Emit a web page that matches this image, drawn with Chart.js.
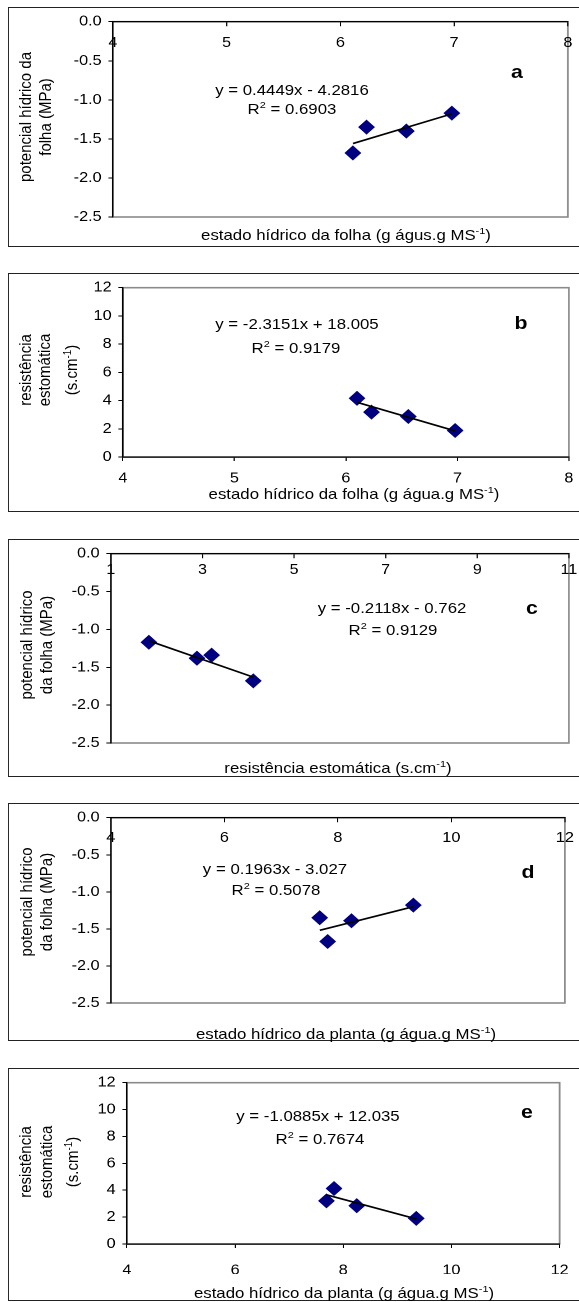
<!DOCTYPE html>
<html>
<head>
<meta charset="utf-8">
<script src="https://cdn.jsdelivr.net/npm/chart.js@4.4.1/dist/chart.umd.min.js"></script>
<style>
html, body { margin: 0; padding: 0; background: #fff; }
body { width: 579px; height: 1302px; overflow: hidden; position: relative; }
#stage {
    position: absolute; left: 0; top: 0; width: 530px; height: 1302px;
    transform-origin: 0 0;
    font-family: "Liberation Sans", Arial, sans-serif; color: #000;
}
.box { position: absolute; }
.frame { position: absolute; box-sizing: border-box; border: 1.4px solid #222; }
.txt { position: absolute; white-space: nowrap; transform: translate(-50%, -50%); font-size: 15px; }
.rot { position: absolute; white-space: nowrap; transform: translate(-50%, -50%) rotate(-90deg); font-size: 15px; }
.tag { font-weight: bold; font-size: 19px; }
sup { font-size: 65%; line-height: 0; vertical-align: 0.55em; }
</style>
</head>
<body>
<div id="stage"></div>
<script>
// horizontal stretch of the original figure
var S = 1.12;

// eixos
var xTicksFolha = [4, 5, 6, 7, 8];
var xTicksResist = [1, 3, 5, 7, 9, 11];
var xTicksPlanta = [4, 6, 8, 10, 12];
var yTicksPot = [0, -0.5, -1, -1.5, -2, -2.5];
var yTicksRes = [0, 2, 4, 6, 8, 10, 12];

// a - estado hídrico da folha x potencial hídrico da folha
var folhaA = [6.11, 6.23, 6.58, 6.98];
var potencialA = [-1.68, -1.35, -1.40, -1.17];
var trendA = [[6.11, -1.56], [6.98, -1.18]];

// b - estado hídrico da folha x resistência estomática
var folhaB = [6.10, 6.23, 6.56, 6.98];
var resistB = [4.16, 3.18, 2.87, 1.88];
var trendB = [[6.10, 3.88], [6.98, 1.85]];

// c - resistência estomática x potencial hídrico da folha
var resistC = [1.83, 2.88, 3.20, 4.11];
var potencialC = [-1.17, -1.38, -1.34, -1.68];
var trendC = [[1.83, -1.15], [4.11, -1.63]];

// d - estado hídrico da planta x potencial hídrico da folha
var plantaD = [7.68, 7.82, 8.24, 9.33];
var potencialD = [-1.35, -1.67, -1.39, -1.18];
var trendD = [[7.68, -1.52], [9.33, -1.20]];

// e - estado hídrico da planta x resistência estomática
var plantaE = [7.69, 7.83, 8.25, 9.35];
var resistE = [3.21, 4.13, 2.85, 1.91];
var trendE = [[7.69, 3.66], [9.35, 1.86]];

// layout in pixels of the picture: frame top/bottom, plot left/top/right/bottom
var panels = [
    { frame: [7, 247], plot: [113, 20, 568, 217], top: true, xt: xTicksFolha, yt: yTicksPot, dec: 1, xs: folhaA, ys: potencialA, trend: trendA, xPad: 8.6 },
    { frame: [273, 512], plot: [123, 287, 569, 457], top: false, xt: xTicksFolha, yt: yTicksRes, dec: 0, xs: folhaB, ys: resistB, trend: trendB, xPad: 8.6 },
    { frame: [539, 777], plot: [111, 552, 569, 743], top: true, xt: xTicksResist, yt: yTicksPot, dec: 1, xs: resistC, ys: potencialC, trend: trendC, xPad: 3.6 },
    { frame: [803, 1041], plot: [111, 816, 565, 1003], top: true, xt: xTicksPlanta, yt: yTicksPot, dec: 1, xs: plantaD, ys: potencialD, trend: trendD, xPad: 7.5 },
    { frame: [1068, 1301], plot: [127, 1082, 561, 1244], top: false, xt: xTicksPlanta, yt: yTicksRes, dec: 0, xs: plantaE, ys: resistE, trend: trendE, xPad: 13.6 }
];

var texts = [
    [292, 89, "txt", "y = 0.4449x - 4.2816"],
    [292, 108, "txt", "R<sup>2</sup> = 0.6903"],
    [517, 72, "txt tag", "a"],
    [346, 234, "txt", "estado hídrico da folha (g águs.g MS<sup>-1</sup>)"],
    [25, 117, "rot", "potencial hídrico da"],
    [45, 117, "rot", "folha (MPa)"],

    [297, 323, "txt", "y = -2.3151x + 18.005"],
    [296, 347, "txt", "R<sup>2</sup> = 0.9179"],
    [521, 323, "txt tag", "b"],
    [354, 493, "txt", "estado hídrico da folha (g água.g MS<sup>-1</sup>)"],
    [25, 370, "rot", "resistência"],
    [44, 370, "rot", "estomática"],
    [70, 370, "rot", "(s.cm<sup>-1</sup>)"],

    [392, 607, "txt", "y = -0.2118x - 0.762"],
    [393, 629, "txt", "R<sup>2</sup> = 0.9129"],
    [532, 608, "txt tag", "c"],
    [338, 767, "txt", "resistência estomática (s.cm<sup>-1</sup>)"],
    [26, 645, "rot", "potencial hídrico"],
    [46, 645, "rot", "da folha (MPa)"],

    [275, 868, "txt", "y = 0.1963x - 3.027"],
    [276, 889, "txt", "R<sup>2</sup> = 0.5078"],
    [528, 872, "txt tag", "d"],
    [346, 1033, "txt", "estado hídrico da planta (g água.g MS<sup>-1</sup>)"],
    [26, 902, "rot", "potencial hídrico"],
    [46, 902, "rot", "da folha (MPa)"],

    [318, 1115, "txt", "y = -1.0885x + 12.035"],
    [320, 1138, "txt", "R<sup>2</sup> = 0.7674"],
    [527, 1112, "txt tag", "e"],
    [344, 1292, "txt", "estado hídrico da planta (g água.g MS<sup>-1</sup>)"],
    [25, 1162, "rot", "resistência"],
    [46, 1162, "rot", "estomática"],
    [72, 1162, "rot", "(s.cm<sup>-1</sup>)"]
];

var stage = document.getElementById("stage");
stage.style.transform = "scaleX(" + S + ")";

var frameLeft = 8;
var frameRight = 584;
var yw = 45;
var xh = 30;

Chart.defaults.font.family = '"Liberation Sans", Arial, sans-serif';
Chart.defaults.font.size = 14.5;
Chart.defaults.color = "#000";

// gray border of the plot area, axes are drawn over it
var plotFrame = {
    id: "plotFrame",
    beforeDraw: function (chart) {
        var a = chart.chartArea;
        var ctx = chart.ctx;
        ctx.save();
        ctx.strokeStyle = "#8a8a8a";
        ctx.lineWidth = 1.6;
        ctx.strokeRect(a.left, a.top, a.right - a.left, a.bottom - a.top);
        ctx.restore();
    }
};

function makePanel(p, i) {
    var h = p.frame[1] - p.frame[0];
    var wrap = document.createElement("div");
    wrap.className = "box";
    wrap.style.left = frameLeft / S + "px";
    wrap.style.top = p.frame[0] + "px";
    wrap.style.width = (frameRight - frameLeft) / S + "px";
    wrap.style.height = h + "px";
    var cv = document.createElement("canvas");
    cv.id = "chart" + i;
    wrap.appendChild(cv);
    stage.appendChild(wrap);

    var fr = document.createElement("div");
    fr.className = "frame";
    fr.style.left = frameLeft / S + "px";
    fr.style.top = p.frame[0] + "px";
    fr.style.width = (frameRight - frameLeft) / S + "px";
    fr.style.height = h + "px";
    stage.appendChild(fr);

    var pts = p.xs.map(function (x, k) { return { x: x, y: p.ys[k] }; });
    var line = p.trend.map(function (t) { return { x: t[0], y: t[1] }; });

    new Chart(cv, {
        type: "scatter",
        data: {
            datasets: [
                {
                    data: pts,
                    pointStyle: "rectRot",
                    pointRadius: 6.8,
                    backgroundColor: "#000080",
                    borderColor: "#000080",
                    borderWidth: 1,
                    order: 1
                },
                {
                    type: "line",
                    data: line,
                    borderColor: "#000",
                    borderWidth: 1.7,
                    pointRadius: 0,
                    fill: false,
                    order: 0
                }
            ]
        },
        options: {
            responsive: true,
            maintainAspectRatio: false,
            animation: false,
            devicePixelRatio: 2,
            events: [],
            layout: {
                padding: {
                    left: (p.plot[0] - frameLeft) / S - yw,
                    right: (frameRight - p.plot[2]) / S,
                    top: p.plot[1] - p.frame[0],
                    bottom: p.frame[1] - p.plot[3] - (p.top ? 0 : xh)
                }
            },
            plugins: { legend: { display: false }, tooltip: { enabled: false } },
            scales: {
                x: {
                    type: "linear",
                    position: p.top ? { y: 0 } : "bottom",
                    min: p.xt[0],
                    max: p.xt[p.xt.length - 1],
                    afterBuildTicks: function (s) {
                        s.ticks = p.xt.map(function (v) { return { value: v }; });
                    },
                    afterFit: function (s) { if (!p.top) s.height = xh; },
                    ticks: { padding: p.xPad, maxRotation: 0, autoSkip: false, color: "#000" },
                    grid: { drawOnChartArea: false, tickLength: 4, color: "#000", tickWidth: 1 },
                    border: { color: "#000", width: 1.2 }
                },
                y: {
                    type: "linear",
                    min: Math.min.apply(null, p.yt),
                    max: Math.max.apply(null, p.yt),
                    afterBuildTicks: function (s) {
                        s.ticks = p.yt.slice().sort(function (a, b) { return a - b; }).map(function (v) { return { value: v }; });
                    },
                    afterFit: function (s) { s.width = yw; },
                    ticks: {
                        padding: 6,
                        color: "#000",
                        callback: function (v) { return v.toFixed(p.dec); }
                    },
                    grid: { drawOnChartArea: false, tickLength: 4, color: "#000", tickWidth: 1 },
                    border: { color: "#000", width: 1.2 }
                }
            }
        },
        plugins: [plotFrame]
    });
}

panels.forEach(makePanel);

texts.forEach(function (t) {
    var d = document.createElement("div");
    d.className = t[2];
    d.style.left = t[0] / S + "px";
    d.style.top = t[1] + "px";
    d.innerHTML = t[3];
    stage.appendChild(d);
});
</script>
</body>
</html>
